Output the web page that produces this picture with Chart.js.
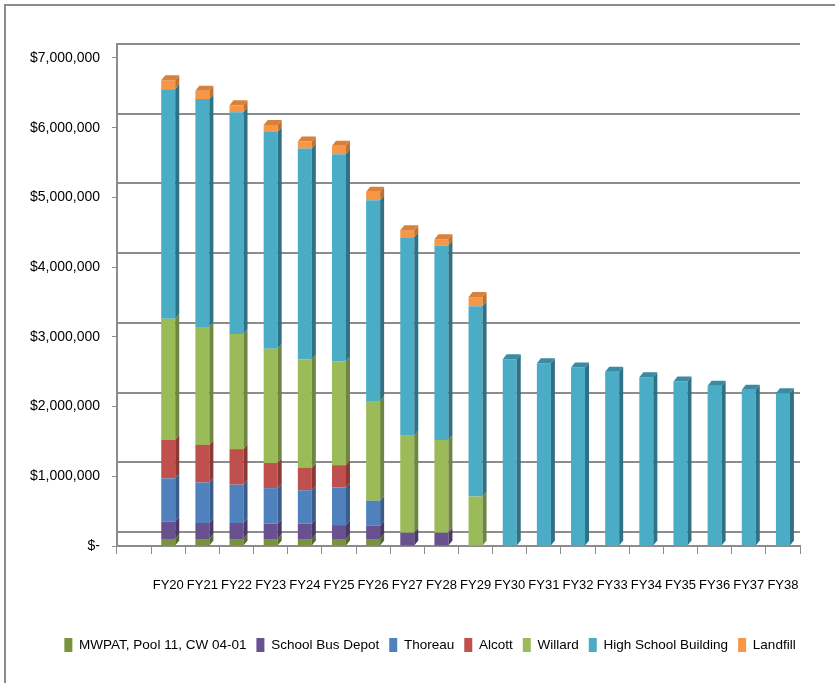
<!DOCTYPE html>
<html>
<head>
<meta charset="utf-8">
<script src="https://cdn.jsdelivr.net/npm/chart.js@4/dist/chart.umd.min.js"></script>
<style>
  html, body { margin: 0; padding: 0; background: #fff; }
  #wrap { position: relative; width: 835px; height: 683px; }
  #frame { position: absolute; left: 4px; top: 4px; right: 0; bottom: 0;
           border-left: 2px solid #8c8c8c; border-top: 2px solid #8c8c8c; pointer-events: none; }
</style>
</head>
<body>
<div id="wrap">
  <canvas id="myChart1" width="835" height="683"></canvas>
  <div id="frame"></div>
</div>
<script>
// first category is empty in the original sheet
var years = ["","FY20","FY21","FY22","FY23","FY24","FY25","FY26","FY27","FY28","FY29",
             "FY30","FY31","FY32","FY33","FY34","FY35","FY36","FY37","FY38"];

var mwpat    = [0,100000,100000,100000,100000,100000,100000,100000,0,0,0,0,0,0,0,0,0,0,0,0];
var busDepot = [0,250000,230000,230000,220000,220000,200000,190000,190000,190000,0,0,0,0,0,0,0,0,0,0];
var thoreau  = [0,620000,580000,550000,510000,480000,540000,360000,0,0,0,0,0,0,0,0,0,0,0,0];
var alcott   = [0,550000,540000,510000,360000,320000,320000,0,0,0,0,0,0,0,0,0,0,0,0,0];
var willard  = [0,1740000,1690000,1650000,1640000,1560000,1490000,1430000,1390000,1330000,710000,0,0,0,0,0,0,0,0,0];
var highSchool = [0,3290000,3270000,3180000,3110000,3020000,2970000,2880000,2850000,2790000,2730000,
                  2680000,2620000,2560000,2500000,2420000,2360000,2300000,2240000,2190000];
var landfill = [0,130000,120000,100000,100000,100000,120000,120000,100000,90000,130000,0,0,0,0,0,0,0,0,0];

var yTicks = [0,1000000,2000000,3000000,4000000,5000000,6000000,7000000];

var names  = ["MWPAT, Pool 11, CW 04-01","School Bus Depot","Thoreau","Alcott","Willard","High School Building","Landfill"];
var series = [mwpat, busDepot, thoreau, alcott, willard, highSchool, landfill];
var front  = ["#77933c","#69518f","#4f81bd","#c0504d","#9bbb59","#4bacc6","#f79646"];
var side   = ["#556b2b","#4a3967","#385d8a","#8c3936","#6e863f","#2f7185","#c1712f"];
var top3d  = ["#627a31","#574378","#416ea3","#a44441","#83a04c","#3a8ba2","#d9803a"];

var FONT = '"Liberation Sans", Arial, sans-serif';

// fake depth: right side and top faces of each stacked bar
var bar3d = {
  id: 'bar3d',
  afterLayout: function(chart){
    // the legend sits a little right of centre in the original
    if(chart.legend){ chart.legend.left += 30; chart.legend.right += 30; }
  },
  afterDatasetsDraw: function(chart){
    var ctx = chart.ctx, dx = 4, dy = 5;
    var topIdx = [];
    chart.data.datasets.forEach(function(ds,i){
      ds.data.forEach(function(v,j){ if(v>0) topIdx[j]=i; });
    });
    ctx.save();
    chart.data.datasets.forEach(function(ds,i){
      var meta = chart.getDatasetMeta(i);
      meta.data.forEach(function(bar,j){
        if(!(ds.data[j]>0)) return;
        var p = bar.getProps(['x','y','base','width'], true);
        var l = p.x - p.width/2, r = p.x + p.width/2;
        ctx.fillStyle = side[i];
        ctx.beginPath();
        ctx.moveTo(r,p.y); ctx.lineTo(r+dx,p.y-dy); ctx.lineTo(r+dx,p.base-dy); ctx.lineTo(r,p.base);
        ctx.closePath(); ctx.fill();
        if(topIdx[j]===i){
          ctx.fillStyle = top3d[i];
          ctx.beginPath();
          ctx.moveTo(l,p.y); ctx.lineTo(l+dx,p.y-dy); ctx.lineTo(r+dx,p.y-dy); ctx.lineTo(r,p.y);
          ctx.closePath(); ctx.fill();
        }
      });
    });
    ctx.restore();
  }
};

var datasets = [];
for(var i=0;i<series.length;i++){
  datasets.push({
    label: names[i],
    data: series[i],
    backgroundColor: front[i],
    borderWidth: 0,
    categoryPercentage: 1.0,
    barPercentage: 0.41
  });
}

var ctx = document.getElementById("myChart1").getContext("2d");
var chart = new Chart(ctx, {
  type: 'bar',
  data: { labels: years, datasets: datasets },
  plugins: [bar3d],
  options: {
    responsive: false,
    animation: false,
    layout: { padding: { left: 0, right: 35, top: 44, bottom: 21 } },
    plugins: {
      tooltip: { enabled: false },
      legend: {
        position: 'bottom',
        labels: {
          boxWidth: 8, boxHeight: 14, padding: 10,
          color: '#000',
          font: { family: FONT, size: 13.5 }
        }
      }
    },
    scales: {
      x: {
        stacked: true,
        grid: { display: true, drawOnChartArea: false, drawTicks: true, tickLength: 8, color: '#8c8c8c', lineWidth: 1 },
        border: { display: true, color: '#8c8c8c', width: 2 },
        ticks: { color: '#000', padding: 24, maxRotation: 0, autoSkip: false, font: { family: FONT, size: 13 } },
        afterFit: function(s){ s.height = 82; }
      },
      y: {
        stacked: true,
        min: 0, max: 7200000,
        afterBuildTicks: function(s){ s.ticks = yTicks.map(function(v){ return {value:v}; }); },
        grid: { display: true, drawOnChartArea: false, drawTicks: true, tickLength: 5, color: '#8c8c8c' },
        border: { display: true, color: '#8c8c8c', width: 2 },
        ticks: {
          color: '#000', padding: 12,
          font: { family: FONT, size: 14 },
          callback: function(v){ return v===0 ? '$-' : '$' + v.toLocaleString('en-US'); }
        },
        afterFit: function(s){ s.width = 117; }
      },
      // back-wall gridlines, shifted up by the bar depth
      yBack: {
        position: 'left',
        min: -200000, max: 7000000,
        afterBuildTicks: function(s){ s.ticks = yTicks.map(function(v){ return {value:v}; }); },
        grid: { display: true, drawTicks: false, color: '#8c8c8c', lineWidth: 2 },
        border: { display: false },
        ticks: { display: false },
        afterFit: function(s){ s.width = 0; }
      }
    }
  }
});
</script>
</body>
</html>
